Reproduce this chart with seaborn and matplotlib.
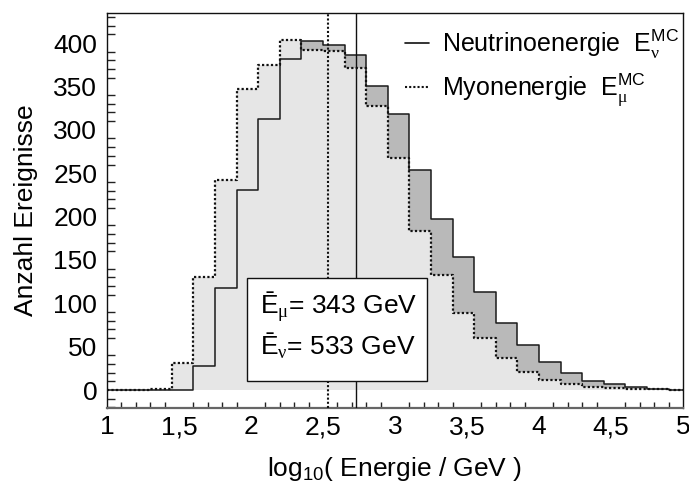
import numpy as np
import pandas as pd
import matplotlib
matplotlib.use("Agg")
import matplotlib.pyplot as plt
from matplotlib.lines import Line2D
from matplotlib.patches import Rectangle
from matplotlib.ticker import FixedLocator, MultipleLocator
import seaborn as sns

# ---------------- data ----------------
bin_start = 1.0
bin_width = 0.15
n_bins = 27
nu_counts = [0, 0, 0, 0, 27.7, 117.3, 230.8, 312.3, 381.6, 402.7, 398.0, 386.5,
             350.0, 318.0, 253.8, 197.3, 153.8, 112.7, 77.0, 52.0, 32.7, 19.2,
             10.7, 6.5, 3.0, 1.2, 0.5]
mu_counts = [0.3, 0.3, 1.5, 30.8, 130.0, 242.3, 347.0, 375.0, 403.8, 391.5, 390.3,
             371.2, 327.7, 267.3, 183.8, 132.7, 88.5, 59.7, 36.6, 21.1, 11.5, 6.9,
             3.1, 1.9, 1.1, 0.7, 0.4]
mean_mu_gev = 343
mean_nu_gev = 533
xtick_values = [1, 1.5, 2, 2.5, 3, 3.5, 4, 4.5, 5]
xtick_labels = ["1", "1,5", "2", "2,5", "3", "3,5", "4", "4,5", "5"]
ytick_values = [0, 50, 100, 150, 200, 250, 300, 350, 400]

bin_range = (bin_start, bin_start + bin_width * n_bins)
centers = bin_start + bin_width * (np.arange(n_bins) + 0.5)
df = pd.DataFrame({"logE": centers, "nu": nu_counts, "mu": mu_counts})

# ---------------- style ----------------
sns.set_style("white")
plt.rcParams["font.family"] = ["Liberation Sans", "DejaVu Sans"]
plt.rcParams["mathtext.fontset"] = "custom"
plt.rcParams["mathtext.rm"] = "Liberation Serif"
plt.rcParams["mathtext.sf"] = "Liberation Sans"
plt.rcParams["mathtext.it"] = "Liberation Sans:italic"
plt.rcParams["mathtext.bf"] = "Liberation Sans:bold"
plt.rcParams["text.color"] = "black"
plt.rcParams["axes.labelcolor"] = "black"
plt.rcParams["xtick.color"] = "black"
plt.rcParams["ytick.color"] = "black"
FS = 19

fig = plt.figure(figsize=(6.89, 4.83), dpi=100)
ax = fig.add_axes([107 / 689, 1 - 408.3 / 483, 576 / 689, 395.6 / 483])

dark = "#b9b9b9"
light = "#e6e6e6"

hist_kw = dict(data=df, x="logE", binwidth=bin_width, binrange=bin_range,
               element="step", ax=ax)
# fills
sns.histplot(weights="nu", fill=True, color=dark, alpha=1, linewidth=0,
             zorder=1, **hist_kw)
sns.histplot(weights="mu", fill=True, color=light, alpha=1, linewidth=0,
             zorder=2, **hist_kw)
# outlines
sns.histplot(weights="nu", fill=False, color="#1a1a1a", linewidth=1.1,
             zorder=3, **hist_kw)
sns.histplot(weights="mu", fill=False, color="#111111", linewidth=1.6,
             linestyle=(0, (1, 1)), zorder=3, **hist_kw)

# mean lines
ax.axvline(np.log10(mean_mu_gev), color="#111111", lw=1.5, ls=(0, (1, 1)), zorder=4)
ax.axvline(np.log10(mean_nu_gev), color="#111111", lw=1.0, zorder=4)

ax.set_xlim(1, 5)
ax.set_ylim(-21, 435)

# ticks
ax.xaxis.set_major_locator(FixedLocator(xtick_values))
ax.set_xticklabels(xtick_labels)
ax.xaxis.set_minor_locator(MultipleLocator(0.1))
ax.yaxis.set_major_locator(FixedLocator(ytick_values))
ax.yaxis.set_minor_locator(MultipleLocator(10))
ax.tick_params(axis="x", which="major", direction="in", length=9, width=1,
               labelsize=FS, pad=5, top=False, color="#222222")
ax.tick_params(axis="x", which="minor", direction="in", length=4, width=1,
               top=False, color="#222222", bottom=True)
ax.tick_params(axis="y", which="major", direction="in", length=12, width=1,
               labelsize=FS, pad=7, right=False, color="#222222")
ax.tick_params(axis="y", which="minor", direction="in", length=6, width=1,
               right=False, color="#222222", left=True)

for side in ["top", "left", "right"]:
    ax.spines[side].set_color("#111111")
    ax.spines[side].set_linewidth(1.0)
ax.spines["bottom"].set_color("#666666")
ax.spines["bottom"].set_linewidth(1.6)

ax.set_xlabel(r"log$_{\mathsf{10}}$( Energie / GeV )", fontsize=FS)
ax.set_ylabel("Anzahl Ereignisse", fontsize=FS)
ax.xaxis.set_label_coords(0.5, -0.118)
ax.yaxis.set_label_coords(-0.12, 0.5)

# text box with means
box = Rectangle((0.243, 0.069), 0.3125, 0.26, transform=ax.transAxes,
                facecolor="white", edgecolor="#111111", lw=1.0, zorder=6)
ax.add_patch(box)
ax.text(0.2656, 0.240, "Ē" + r"$_{\mathrm{\mu}}$" + f"= {mean_mu_gev} GeV",
        transform=ax.transAxes, fontsize=FS, va="baseline", ha="left", zorder=7)
ax.text(0.2656, 0.135, "Ē" + r"$_{\mathrm{\nu}}$" + f"= {mean_nu_gev} GeV",
        transform=ax.transAxes, fontsize=FS, va="baseline", ha="left", zorder=7)

# legend
handles = [Line2D([], [], color="#111111", lw=1.2),
           Line2D([], [], color="#111111", lw=1.5, ls=(0, (1, 1)))]
labels = [r"Neutrinoenergie  $\mathsf{E}^{\mathsf{MC}}_{\mathrm{\nu}}$",
          r"Myonenergie  $\mathsf{E}^{\mathsf{MC}}_{\mathrm{\mu}}$"]
ax.legend(handles, labels, loc="upper left", bbox_to_anchor=(0.517, 0.962),
          frameon=False, fontsize=18, handlelength=0.95, handletextpad=0.55,
          borderpad=0, borderaxespad=0, labelspacing=0.4)

fig.savefig("out.png", dpi=100)
